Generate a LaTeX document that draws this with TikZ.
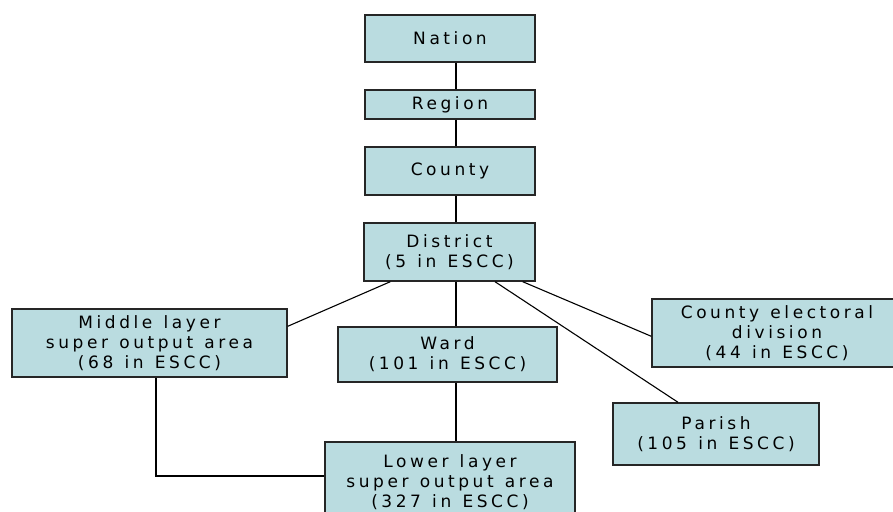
\documentclass[tikz,border=0pt]{standalone}
\usepackage{fontspec}
\setmainfont{DejaVu Sans}[LetterSpace=21,WordSpace=1.25]
\usepackage{tikz}
\definecolor{boxfill}{RGB}{186,220,224}

\begin{document}
\begin{tikzpicture}[x=1pt,y=-1pt,
		level/.style={rectangle, draw=black!85, line width=1.4pt, fill=boxfill,
			inner sep=0pt, align=center, font=\fontsize{17}{20}\selectfont},
		link/.style={line width=1.1pt}]
			\useasboundingbox (0,0) rectangle (893,511);
			\coordinate (spine) at (456,0);
			% top chain
			\node[level, minimum width=170pt, minimum height=47pt] (nation) at (450,38.5) {Nation};
			\node[level, minimum width=170pt, minimum height=29pt] (region) at (450,104.5) {Region};
			\node[level, minimum width=170pt, minimum height=48pt] (county) at (450,171) {County};
			\node[level, minimum width=171pt, minimum height=58pt] (district) at (449.5,252) {District\\(5 in ESCC)};
			% below district
			\node[level, minimum width=275pt, minimum height=68pt] (mlsoa) at (149.5,343) {Middle layer\\super output area\\(68 in ESCC)};
			\node[level, minimum width=219pt, minimum height=55pt] (ward) at (447.5,354.5) {Ward\\(101 in ESCC)};
			\node[level, minimum width=250pt, minimum height=80pt] (lsoa) at (450,482) {Lower layer\\super output area\\(327 in ESCC)};
			\node[level, minimum width=250pt, minimum height=68pt] (ced) at (777,333) {County electoral\\division\\(44 in ESCC)};
			\node[level, minimum width=206pt, minimum height=62pt] (parish) at (716,434) {Parish\\(105 in ESCC)};
			% connectors
			\draw[link] (nation.south -| spine) -- (region.north -| spine);
			\draw[link] (region.south -| spine) -- (county.north -| spine);
			\draw[link] (county.south -| spine) -- (district.north -| spine);
			\draw[link] (district.south -| spine) -- (ward.north -| spine);
			\draw[link] (ward.south -| spine) -- (lsoa.north -| spine);
			\draw[link] ([xshift=27pt]district.south west) -- ([yshift=-18pt]mlsoa.north east);
			\draw[link] ([xshift=-13pt]district.south east) -- ([yshift=-38pt]ced.north west);
			\draw[link] ([xshift=45.5pt]district.south) -- ([xshift=-38pt]parish.north);
			\draw[link] ([xshift=6.5pt]mlsoa.south) |- ([yshift=6pt]lsoa.west);
		\end{tikzpicture}
\end{document}
